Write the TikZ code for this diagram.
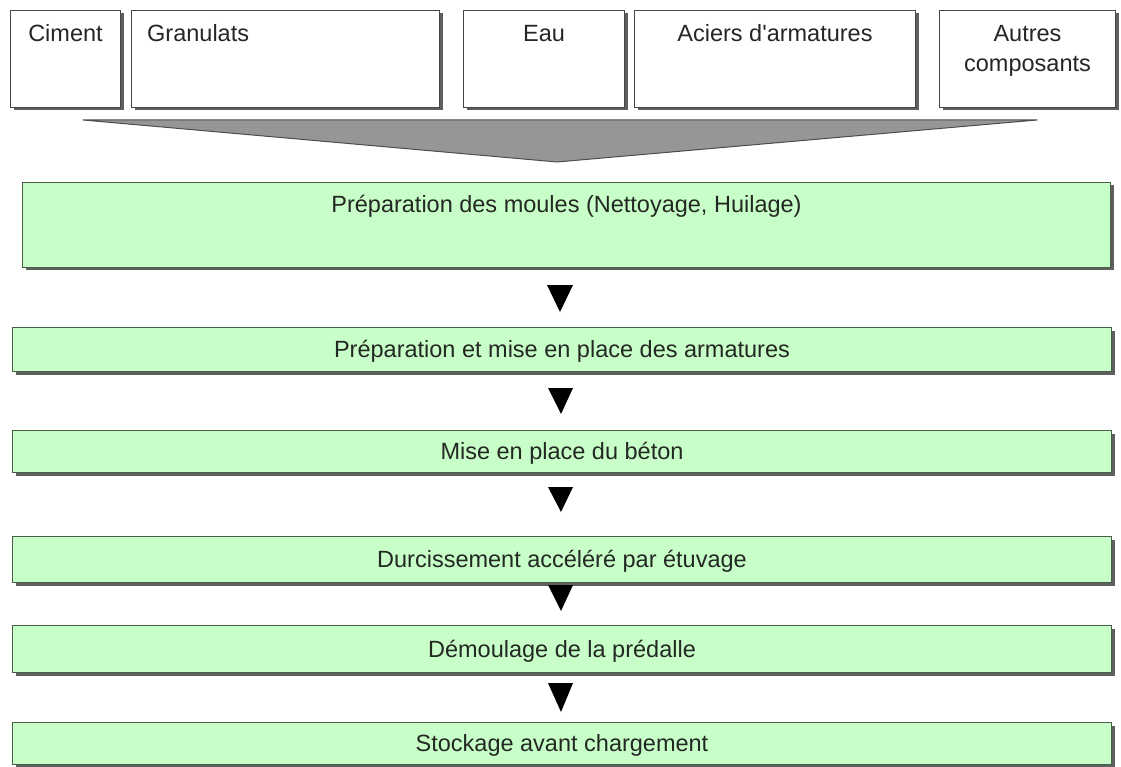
\documentclass[tikz,border=0pt]{standalone}
\usepackage{fontspec}
\setmainfont{Liberation Sans}[Ligatures=TeXOff]
\usetikzlibrary{shadows}
\definecolor{stepgreen}{RGB}{200,254,200}
\definecolor{stepedge}{RGB}{70,95,70}
\definecolor{boxedge}{RGB}{70,70,70}
\definecolor{shade}{RGB}{95,95,95}
\definecolor{funnelgray}{RGB}{150,150,150}
\definecolor{txt}{RGB}{35,40,35}
\tikzset{
  inbox/.style={draw=boxedge, fill=white, line width=1pt, rectangle, inner sep=0pt, anchor=north west,
    drop shadow={shadow xshift=3pt, shadow yshift=-3pt, fill=shade, opacity=1}},
  stepbox/.style={draw=stepedge, fill=stepgreen, line width=1pt, rectangle, inner sep=0pt, anchor=north west,
    drop shadow={shadow xshift=3pt, shadow yshift=-3pt, fill=shade, opacity=1}},
  lbl/.style={font=\fontsize{23.5}{30}\selectfont, text=txt, inner sep=0pt},
  tri/.style={fill=black},
  funnel/.style={fill=funnelgray, draw=black!70, line width=1pt, line join=round}
}
\begin{document}
\begin{tikzpicture}[x=1pt,y=-1pt]
\useasboundingbox (0,0) rectangle (1121,767);
% input boxes
\node[inbox, minimum width=110, minimum height=97] (ciment) at (10,10) {};
\node[inbox, minimum width=308, minimum height=97] (gran) at (131,10) {};
\node[inbox, minimum width=161, minimum height=97] (eau) at (463,10) {};
\node[inbox, minimum width=281, minimum height=97] (acier) at (634,10) {};
\node[inbox, minimum width=176, minimum height=97] (autres) at (939,10) {};
\node[lbl, anchor=base] at ([yshift=-32pt]ciment.north) {Ciment};
\node[lbl, anchor=base west] at (147,42) {Granulats};
\node[lbl, anchor=base] at ([yshift=-32pt]eau.north) {Eau};
\node[lbl, anchor=base] at ([yshift=-32pt]acier.north) {Aciers d'armatures};
\node[lbl, anchor=base] at ([yshift=-32pt]autres.north) {Autres};
\node[lbl, anchor=base] at ([yshift=-62pt]autres.north) {composants};
% funnel
\draw[funnel] (83,120) -- (1037,120) -- (557,162) -- cycle;
% process steps
\node[stepbox, minimum width=1088, minimum height=85] (s1) at (22,182) {};
\node[lbl, anchor=base] at ([yshift=-31pt]s1.north) {Préparation des moules (Nettoyage, Huilage)};
\node[stepbox, minimum width=1099, minimum height=44] (s2) at (12,327) {};
\node[lbl, anchor=base] at ([yshift=-8pt]s2.center) {Préparation et mise en place des armatures};
\node[stepbox, minimum width=1099, minimum height=42] (s3) at (12,430) {};
\node[lbl, anchor=base] at ([yshift=-8pt]s3.center) {Mise en place du béton};
\node[stepbox, minimum width=1099, minimum height=46] (s4) at (12,536) {};
\node[lbl, anchor=base] at ([yshift=-8pt]s4.center) {Durcissement accéléré par étuvage};
\node[stepbox, minimum width=1099, minimum height=47] (s5) at (12,625) {};
\node[lbl, anchor=base] at ([yshift=-8pt]s5.center) {Démoulage de la prédalle};
\node[stepbox, minimum width=1099, minimum height=42] (s6) at (12,722) {};
\node[lbl, anchor=base] at ([yshift=-8pt]s6.center) {Stockage avant chargement};
% arrows
\fill[tri] (547,285) -- (573,285) -- (560,312) -- cycle;
\fill[tri] (548,388) -- (573,388) -- (561,414) -- cycle;
\fill[tri] (548,487) -- (573,487) -- (561,512) -- cycle;
\fill[tri] (548,585) -- (573,585) -- (561,611) -- cycle;
\fill[tri] (548,683) -- (573,683) -- (561,712) -- cycle;
\end{tikzpicture}
\end{document}
